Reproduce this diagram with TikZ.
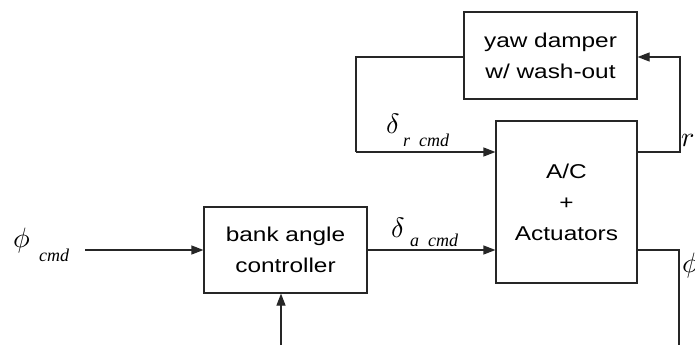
\documentclass[tikz,border=0pt]{standalone}
\usepackage{graphicx}
\usepackage{fontspec}
\setmainfont{Liberation Serif}
\newfontfamily\boxfont[FakeStretch=1.22]{Liberation Sans}
\usetikzlibrary{arrows.meta}
\newcommand{\bigsym}[2][2.8]{\scalebox{#1}{$#2$}}
\tikzset{
  blk/.style={draw=black!85, line width=1.2pt, fill=white, inner sep=0pt, align=center,
    font=\boxfont\fontsize{20}{31}\selectfont},
  sig/.style={draw=black!85, line width=1.2pt},
  sigarrow/.style={sig, -{Triangle[length=12pt,width=9pt]}},
  greek/.style={inner sep=0pt},
  sub/.style={inner sep=0pt, font=\fontsize{18}{18}\selectfont\itshape},
}
\begin{document}
\begin{tikzpicture}[x=1pt,y=-1pt]
\useasboundingbox[fill=white] (0,0) rectangle (695,345);
% blocks
\node[blk, minimum width=173pt, minimum height=87pt] (yaw) at (550.5,55.5) {yaw damper\\w/ wash-out};
\node[blk, minimum width=141pt, minimum height=162pt] (ac) at (566.5,202) {A/C\\+\\Actuators};
\node[blk, minimum width=163pt, minimum height=86pt] (bank) at (285.5,250) {bank angle\\controller};
% coordinates
\coordinate (cmdin) at (85,250);
\coordinate (fb) at (281,345);
\coordinate (phiout) at (637,250);
\coordinate (phicorner) at (679,250);
\coordinate (phiend) at (679,345);
\coordinate (rout) at (637,152);
\coordinate (rcorner1) at (680,152);
\coordinate (rcorner2) at (680,57);
\coordinate (yawout) at (464,57);
\coordinate (lcorner1) at (356,57);
\coordinate (lcorner2) at (356,152);
% connectors
\draw[sigarrow] (cmdin) -- (bank.west);
\draw[sigarrow] (bank.east) -- (bank.east -| ac.west);
\draw[sigarrow] (fb) -- (fb |- bank.south);
\draw[sig] (phiout) -- (phicorner) -- (phiend);
\draw[sigarrow] (rout) -- (rcorner1) -- (rcorner2) -- (rcorner2 -| yaw.east);
\draw[sig] (yawout) -- (lcorner1) -- (lcorner2);
\draw[sigarrow] (lcorner2) -- (lcorner2 -| ac.west);
% labels
\node[greek, anchor=base west] (phic) at (13,247) {\bigsym{\phi}};
\node[sub, anchor=base west] (phics) at (39,261) {cmd};
\node[greek, anchor=base west] (dr) at (386,133) {\bigsym{\delta}};
\node[sub, anchor=base west] (drs) at (403,146) {r\enspace cmd};
\node[greek, anchor=base west] (da) at (391,237) {\bigsym{\delta}};
\node[sub, anchor=base west] (das) at (410,246) {a\enspace cmd};
\node[greek, anchor=base west] (rl) at (681,146) {\bigsym{r}};
\node[greek, anchor=base west] (phir) at (682,272) {\bigsym{\phi}};
\end{tikzpicture}
\end{document}
